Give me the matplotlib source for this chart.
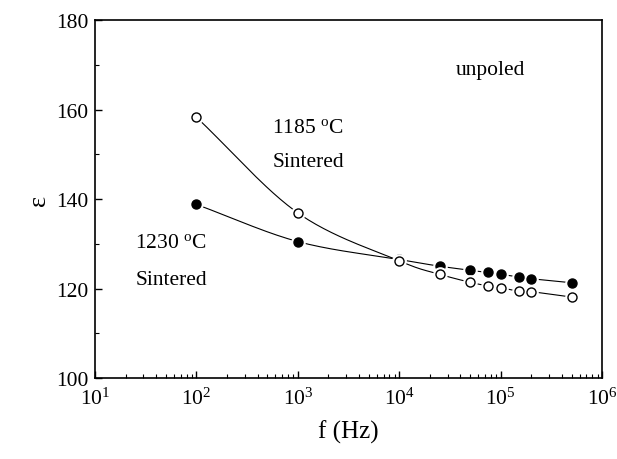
import numpy as np
import matplotlib.pyplot as plt
from matplotlib.ticker import LogLocator, MultipleLocator

plt.rcParams['font.family'] = ['Liberation Serif', 'DejaVu Serif']
plt.rcParams['mathtext.fontset'] = 'custom'
plt.rcParams['mathtext.rm'] = 'Liberation Serif'
plt.rcParams['mathtext.it'] = 'Liberation Serif:italic'

# data
f_1185 = [1e2, 1e3, 1e4, 2.5e4, 5e4, 7.5e4, 1e5, 1.5e5, 2e5, 5e5]
eps_1185 = [158.3, 136.9, 126.2, 123.2, 121.4, 120.6, 120.2, 119.4, 119.3, 118.1]
f_1230 = [1e2, 1e3, 1e4, 2.5e4, 5e4, 7.5e4, 1e5, 1.5e5, 2e5, 5e5]
eps_1230 = [138.8, 130.5, 126.5, 125.0, 124.1, 123.6, 123.2, 122.6, 122.2, 121.3]


def smooth(x, y, n=30):
    # catmull-rom through the points in log10(x), only for the connecting line
    lx = np.log10(x)
    y = np.asarray(y, float)
    px = np.concatenate([[2 * lx[0] - lx[1]], lx, [2 * lx[-1] - lx[-2]]])
    py = np.concatenate([[2 * y[0] - y[1]], y, [2 * y[-1] - y[-2]]])
    xs, ys = [], []
    for i in range(1, len(px) - 2):
        t = np.linspace(0, 1, n)
        for arr, out in ((px, xs), (py, ys)):
            p0, p1, p2, p3 = arr[i - 1], arr[i], arr[i + 1], arr[i + 2]
            out.extend(0.5 * ((2 * p1) + (-p0 + p2) * t
                              + (2 * p0 - 5 * p1 + 4 * p2 - p3) * t ** 2
                              + (-p0 + 3 * p1 - 3 * p2 + p3) * t ** 3))
    return 10 ** np.array(xs), np.array(ys)


fig = plt.figure(figsize=(6.17, 4.6), dpi=100)
ax = fig.add_axes([0.154, 0.176, 0.822, 0.778])

z = 2
for f, e, fc in ((f_1230, eps_1230, 'black'), (f_1185, eps_1185, 'white')):
    sx, sy = smooth(f, e)
    ax.plot(sx, sy, color='black', lw=0.8, zorder=z)
    ax.plot(f, e, 'o', ms=9.5, mfc='white', mec='white', zorder=z + 1)
    ax.plot(f, e, 'o', ms=6.5, mfc=fc, mec='black', mew=1.0, zorder=z + 2)
    z += 3

ax.set_xscale('log')
ax.set_xlim(10, 1e6)
ax.set_ylim(100, 180)
ax.xaxis.set_major_locator(LogLocator(base=10, numticks=10))
ax.xaxis.set_minor_locator(LogLocator(base=10, subs=np.arange(2, 10), numticks=20))
ax.yaxis.set_major_locator(MultipleLocator(20))
ax.yaxis.set_minor_locator(MultipleLocator(10))
ax.tick_params(which='both', direction='in', top=False, right=False, labelsize=15.5)
ax.tick_params(which='major', length=5, width=1)
ax.tick_params(which='minor', length=3, width=0.8)
ax.tick_params(axis='x', pad=7)
ax.tick_params(axis='y', pad=5)
for s in ax.spines.values():
    s.set_linewidth(1.2)

ax.set_xlabel('f (Hz)', fontsize=18, labelpad=8)
ax.set_ylabel('ε', fontsize=19, labelpad=4)

ax.text(3.6e4, 169, 'unpoled', fontsize=15.5, va='center')
ax.text(5.6e2, 156, r'1185 $^{\rm o}$C', fontsize=15.5, va='center')
ax.text(5.6e2, 148.5, 'Sintered', fontsize=15.5, va='center')
ax.text(25, 130.4, r'1230 $^{\rm o}$C', fontsize=15.5, va='center')
ax.text(25, 122, 'Sintered', fontsize=15.5, va='center')

fig.savefig('out.png', dpi=100)
